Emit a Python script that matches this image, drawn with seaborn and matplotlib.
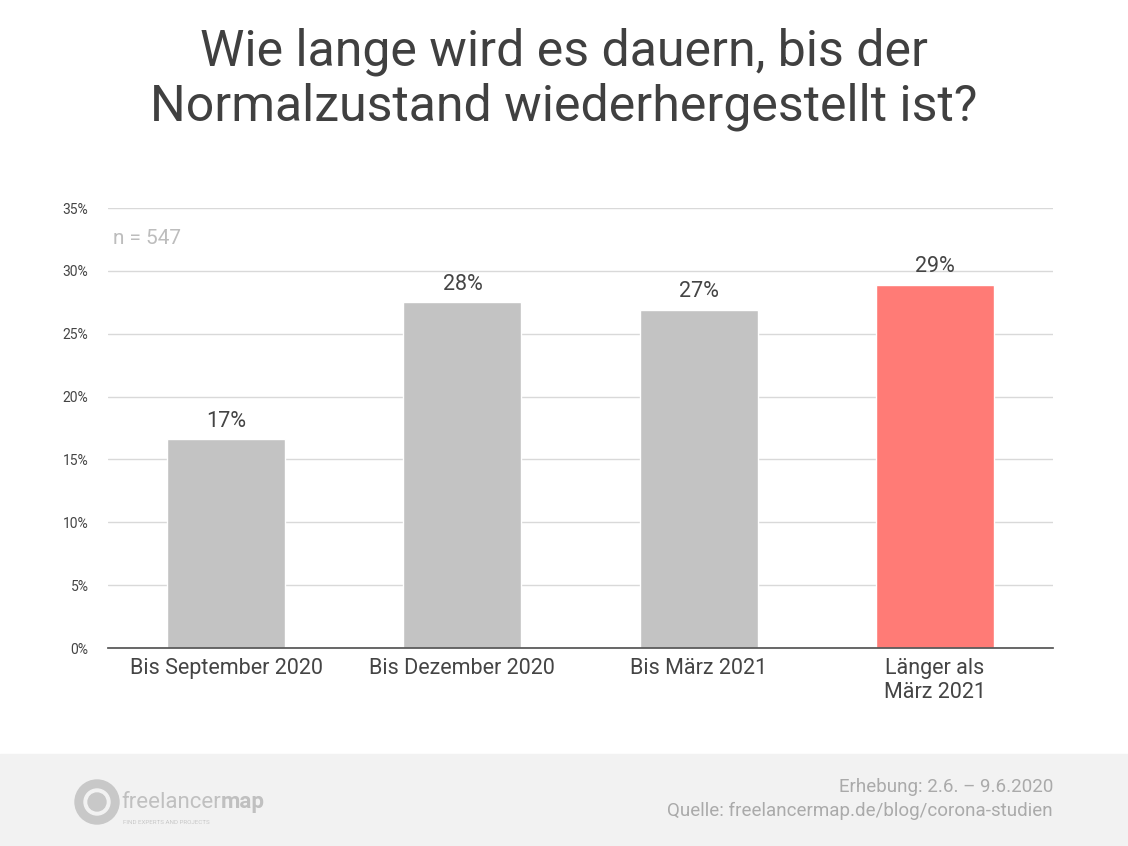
import matplotlib
matplotlib.use("Agg")
import matplotlib.pyplot as plt
import seaborn as sns
import pandas as pd
from matplotlib.patches import Rectangle, Ellipse
from matplotlib.ticker import FuncFormatter

categories = ["Bis September 2020", "Bis Dezember 2020", "Bis März 2021", "Länger als\nMärz 2021"]
values = [16.6, 27.5, 26.9, 28.9]
labels = ["17%", "28%", "27%", "29%"]
colors = ["#c3c3c3", "#c3c3c3", "#c3c3c3", "#ff7b76"]

sns.set_theme(style="white")
plt.rcParams['font.family'] = ['Roboto', 'DejaVu Sans']

W, H = 1128, 846
fig = plt.figure(figsize=(11.28, 8.46), dpi=100)
ax = fig.add_axes([108/W, 1-648/H, (1053-108)/W, (648-208)/H])
df = pd.DataFrame({"cat": categories, "val": values})
sns.barplot(data=df, x="cat", y="val", hue="cat", palette=colors, legend=False, width=0.5, ax=ax, saturation=1)
ax.set_ylim(0, 35)
ax.set_yticks(range(0, 36, 5))
ax.yaxis.set_major_formatter(FuncFormatter(lambda v, p: f"{int(v)}%"))
ax.grid(axis="y", color="#d9d9d9", lw=1)
ax.set_axisbelow(True)
for s in ax.spines.values():
    s.set_visible(False)
ax.spines["bottom"].set_visible(True)
ax.spines["bottom"].set_color("#555555")
ax.set_xlabel(""); ax.set_ylabel("")
ax.tick_params(axis="y", labelsize=10, colors="#444444", length=0, pad=14)
ax.tick_params(axis="x", labelsize=15.5, colors="#444444", length=0, pad=7)
for i, (v, l) in enumerate(zip(values, labels)):
    ax.text(i, v + 0.6, l, ha="center", va="bottom", fontsize=15.5, color="#444444")
ax.text(0.005, 0.93, "n = 547", transform=ax.transAxes, fontsize=15, color="#bdbdbd", va="center")

fig.text(0.5, 1-52/H, "Wie lange wird es dauern, bis der", ha="center", va="center", fontsize=36, color="#404040")
fig.text(0.5, 1-107/H, "Normalzustand wiederhergestellt ist?", ha="center", va="center", fontsize=36, color="#404040")

fig.patches.append(Rectangle((0, 0), 1, (H-754)/H, transform=fig.transFigure, color="#f2f2f2", zorder=0))
fig.text(1053/W, 1-787/H, "Erhebung: 2.6. – 9.6.2020", ha="right", va="center", fontsize=13.5, color="#aaaaaa")
fig.text(1053/W, 1-811/H, "Quelle: freelancermap.de/blog/corona-studien", ha="right", va="center", fontsize=13.5, color="#aaaaaa")
cx, cy = 97/W, 1-802/H
fig.patches.append(Ellipse((cx, cy), 44/W, 44/H, transform=fig.transFigure, color="#c8c8c8", zorder=1))
fig.patches.append(Ellipse((cx, cy), 26/W, 26/H, transform=fig.transFigure, color="#f2f2f2", zorder=2))
fig.patches.append(Ellipse((cx, cy), 18/W, 18/H, transform=fig.transFigure, color="#c8c8c8", zorder=3))
t1 = fig.text(121/W, 1-802/H, "freelancer", ha="left", va="center", fontsize=16, color="#c0c0c0")
fig.canvas.draw()
bb = t1.get_window_extent()
fig.text(bb.x1/W + 0.5/W, 1-802/H, "map", ha="left", va="center", fontsize=16, color="#c0c0c0", fontweight="bold")
fig.text(123/W, 1-822/H, "FIND EXPERTS AND PROJECTS", ha="left", va="center", fontsize=4.5, color="#c8c8c8")

fig.savefig("out.png", dpi=100, facecolor="white")
